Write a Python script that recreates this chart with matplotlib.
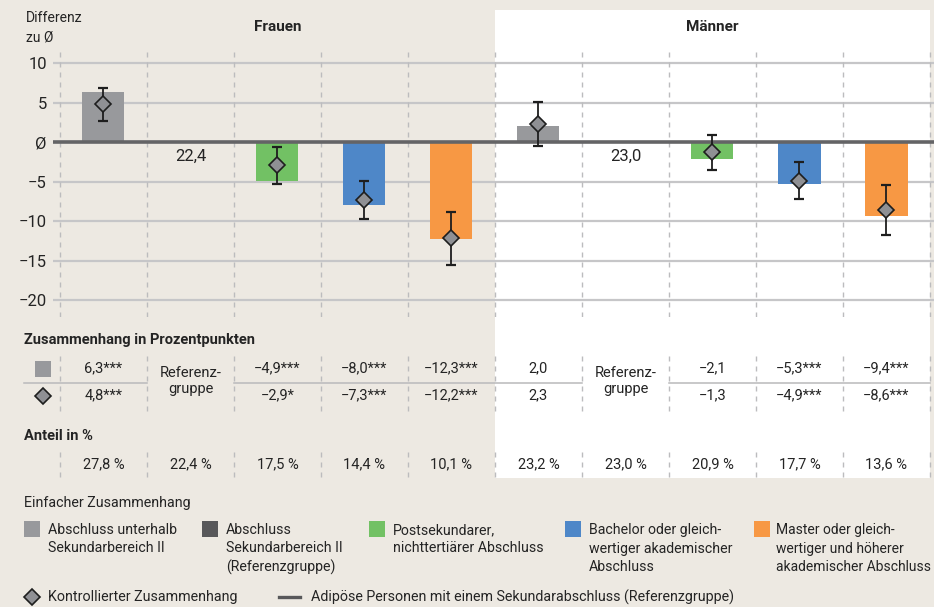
import matplotlib.pyplot as plt
from matplotlib.patches import Rectangle
from matplotlib.transforms import blended_transform_factory

# Schrift
plt.rcParams['font.family'] = ['Roboto', 'DejaVu Sans']

# Daten (Differenz zu Ø in Prozentpunkten)
gruppen = ['Frauen', 'Männer']
kategorien = ['Abschluss unterhalb\nSekundarbereich II',
              'Abschluss\nSekundarbereich II\n(Referenzgruppe)',
              'Postsekundarer,\nnichttertiärer Abschluss',
              'Bachelor oder gleich-\nwertiger akademischer\nAbschluss',
              'Master oder gleich-\nwertiger und höherer\nakademischer Abschluss']
farben = ['#98999c', '#58585a', '#72c164', '#4e87c8', '#f79844']

frauen_einfach = [6.3, None, -4.9, -8.0, -12.3]
frauen_kontr = [4.8, None, -2.9, -7.3, -12.2]
frauen_ki_unten = [2.7, None, -5.3, -9.7, -15.6]
frauen_ki_oben = [6.8, None, -0.6, -4.9, -8.9]
frauen_sig_einfach = ['***', '', '***', '***', '***']
frauen_sig_kontr = ['***', '', '*', '***', '***']
frauen_anteil = [27.8, 22.4, 17.5, 14.4, 10.1]

maenner_einfach = [2.0, None, -2.1, -5.3, -9.4]
maenner_kontr = [2.3, None, -1.3, -4.9, -8.6]
maenner_ki_unten = [-0.5, None, -3.6, -7.2, -11.8]
maenner_ki_oben = [5.1, None, 0.9, -2.5, -5.4]
maenner_sig_einfach = ['', '', '', '***', '***']
maenner_sig_kontr = ['', '', '', '***', '***']
maenner_anteil = [23.2, 23.0, 20.9, 17.7, 13.6]

referenz = [22.4, 23.0]

y_ticks = [10, 5, 0, -5, -10, -15, -20]
y_labels = ['10', '5', 'Ø', '−5', '−10', '−15', '−20']

BG = '#ede9e2'
GRID = '#c6c6c8'
DASH = '#bcbcbe'
TXT = '#242424'


def fmt(v):
    return f'{v:.1f}'.replace('.', ',').replace('-', '−')


W, H = 934, 607
fig = plt.figure(figsize=(W / 100, H / 100), dpi=100)
fig.patch.set_facecolor(BG)

# Hintergrund-Achse in Pixeln
bg = fig.add_axes([0, 0, 1, 1], zorder=0)
bg.set_xlim(0, W)
bg.set_ylim(H, 0)
bg.axis('off')
bg.add_patch(Rectangle((495, 10), 435, 468, facecolor='white', edgecolor='none'))

# Diagramm-Achse
ax = fig.add_axes([53 / W, 1 - 317 / H, (W - 53) / W, (317 - 50) / H], zorder=1)
ax.patch.set_alpha(0)
ax.set_xlim(-0.58, 9.546)
ax.set_ylim(-22.15, 11.65)
for s in ax.spines.values():
    s.set_visible(False)
ax.set_xticks([])
ax.set_yticks(y_ticks)
ax.set_yticklabels(y_labels, fontsize=12, color=TXT)
ax.tick_params(axis='y', length=0, pad=4.5)

for t in y_ticks:
    if t != 0:
        ax.axhline(t, color=GRID, lw=1.6, zorder=1)
for b in range(11):
    ax.axvline(b - 0.5, color=DASH, lw=1, ls=(0, (3.6, 3.6)), zorder=1)
ax.axhline(0, color='#646466', lw=2.6, zorder=4)

tx = blended_transform_factory(ax.transData, bg.transData)

alle_einfach = frauen_einfach + maenner_einfach
alle_kontr = frauen_kontr + maenner_kontr
alle_unten = frauen_ki_unten + maenner_ki_unten
alle_oben = frauen_ki_oben + maenner_ki_oben
alle_sig_e = frauen_sig_einfach + maenner_sig_einfach
alle_sig_k = frauen_sig_kontr + maenner_sig_kontr
alle_anteil = frauen_anteil + maenner_anteil

for i in range(10):
    k = i % 5
    if alle_einfach[i] is None:
        continue
    ax.bar(i, alle_einfach[i], width=0.483, color=farben[k], zorder=3)
    ax.errorbar(i, alle_kontr[i],
                yerr=[[alle_kontr[i] - alle_unten[i]], [alle_oben[i] - alle_kontr[i]]],
                fmt='none', ecolor='#1e1e1e', elinewidth=1.3, capsize=3.6,
                capthick=1.6, zorder=5)
    ax.plot(i, alle_kontr[i], marker='D', ms=8.3, mfc='#8f9094', mec='#1e1e1e',
            mew=1.2, zorder=6)

# Referenzwerte
for j, r in enumerate(referenz):
    ax.text(1 + 5 * j, -1.8, fmt(r), ha='center', va='center', fontsize=12, color=TXT, zorder=6)

# Titel
bg.text(26, 18, 'Differenz', fontsize=10, color=TXT, va='center', ha='left')
bg.text(26, 38, 'zu Ø', fontsize=10, color=TXT, va='center', ha='left')
for j, g in enumerate(gruppen):
    bg.text(2 + 5 * j, 27, g, transform=tx, fontsize=11, fontweight='bold',
            color=TXT, ha='center', va='center')

# Tabelle
bg.text(24, 340, 'Zusammenhang in Prozentpunkten', fontsize=10.5, fontweight='bold',
        color=TXT, va='center')
bg.add_patch(Rectangle((35, 361), 16, 16, facecolor=farben[0], edgecolor='none'))
bg.plot(43, 396, marker='D', ms=8.3, mfc='#8f9094', mec='#1e1e1e', mew=1.2)

for i in range(10):
    if alle_einfach[i] is None:
        bg.text(i, 381, 'Referenz-\ngruppe', transform=tx, fontsize=10.5, color=TXT,
                ha='center', va='center', linespacing=1.25)
    else:
        bg.text(i, 368, fmt(alle_einfach[i]) + alle_sig_e[i], transform=tx,
                fontsize=10.5, color=TXT, ha='center', va='center')
        bg.text(i, 395, fmt(alle_kontr[i]) + alle_sig_k[i], transform=tx,
                fontsize=10.5, color=TXT, ha='center', va='center')
    bg.text(i, 464, fmt(alle_anteil[i]) + ' %', transform=tx, fontsize=10.5,
            color=TXT, ha='center', va='center')

for x0, x1 in [(-0.914, 0.5), (1.5, 5.5), (6.5, 9.5)]:
    bg.plot([x0, x1], [383, 383], transform=tx, color='#b9b9bb', lw=1.1)
for b in range(11):
    bg.plot([b - 0.5, b - 0.5], [356, 411], transform=tx, color=DASH, lw=1,
            ls=(0, (3.6, 3.6)))
    bg.plot([b - 0.5, b - 0.5], [452, 478], transform=tx, color=DASH, lw=1,
            ls=(0, (3.6, 3.6)))

bg.text(24, 436, 'Anteil in %', fontsize=10.5, fontweight='bold', color=TXT, va='center')

# Legende
bg.text(24, 503, 'Einfacher Zusammenhang', fontsize=10.3, color=TXT, va='center')
leg_x = [24, 202, 369, 565, 754]
for k, lab in enumerate(kategorien):
    bg.add_patch(Rectangle((leg_x[k], 521), 16, 16, facecolor=farben[k], edgecolor='none'))
    tx0 = leg_x[k] + 24 if k < 4 else leg_x[k] + 22
    for n, zeile in enumerate(lab.split('\n')):
        bg.text(tx0, 530 + 18.5 * n, zeile, fontsize=10.2 if k < 4 else 10,
                color=TXT, va='center')

bg.plot(32, 597, marker='D', ms=8.3, mfc='#8f9094', mec='#1e1e1e', mew=1.2)
bg.text(48, 597, 'Kontrollierter Zusammenhang', fontsize=10.3, color=TXT, va='center')
bg.plot([279, 300], [597, 597], color='#58585a', lw=2.4)
bg.text(311, 597, 'Adipöse Personen mit einem Sekundarabschluss (Referenzgruppe)',
        fontsize=10.3, color=TXT, va='center')

fig.savefig('out.png', dpi=100, facecolor=BG)
